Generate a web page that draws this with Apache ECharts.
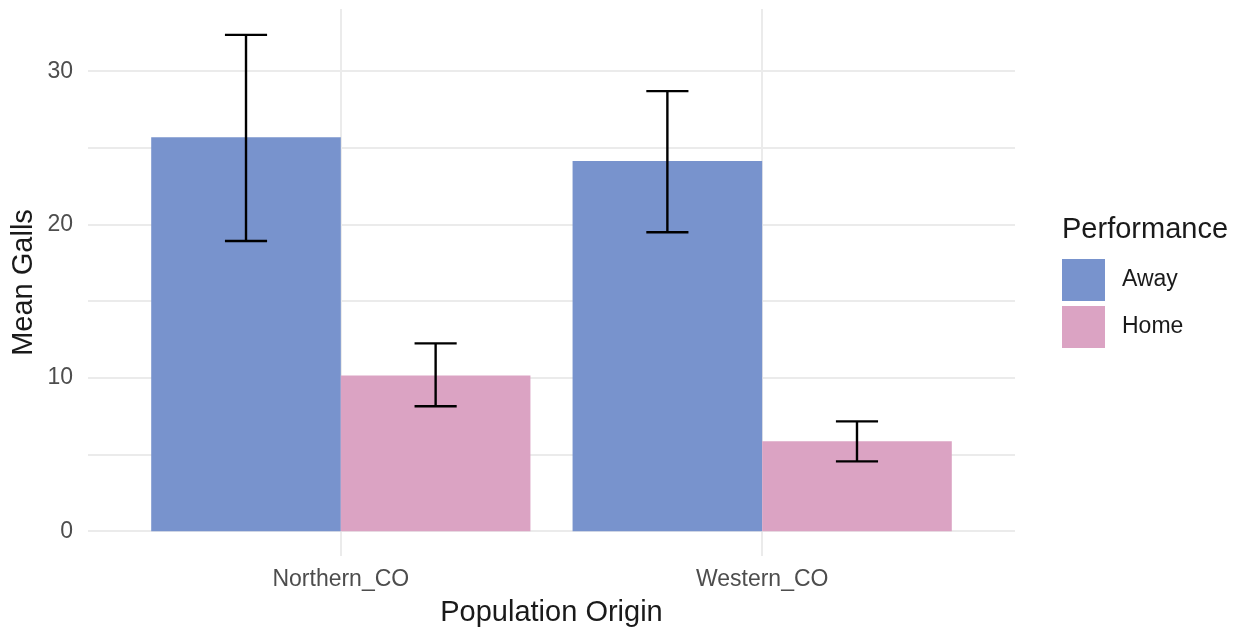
<!DOCTYPE html>
<html>
<head>
<meta charset="utf-8">
<script src="https://cdn.jsdelivr.net/npm/echarts@6/dist/echarts.min.js"></script>
<style>
  html, body { margin: 0; padding: 0; background: #fff; }
  #chart { width: 1240px; height: 627px; }
</style>
</head>
<body>
<div id="chart"></div>
<script>
// Mean galls per population origin, split by performance site, with error bars
const categories = ['Northern_CO', 'Western_CO'];
const groups = ['Away', 'Home'];
const awayMeans = [25.7, 24.15];
const homeMeans = [10.15, 5.86];
const awayLower = [18.93, 19.5];
const awayUpper = [32.37, 28.7];
const homeLower = [8.15, 4.55];
const homeUpper = [12.25, 7.16];
const yTickValues = [0, 5, 10, 15, 20, 25, 30];
const yLabelValues = [0, 10, 20, 30];

const colors = { Away: '#7893CD', Home: '#DBA3C3' };
const fontFamily = '"Liberation Sans", Arial, sans-serif';

// Category positions on a continuous axis (1, 2, ...), dodge width 0.9
const dodge = 0.45;
const offsets = { Away: -dodge / 2, Home: dodge / 2 };
const capHalf = 0.05;

function barSeries(name, means) {
  return {
    name: name,
    type: 'custom',
    itemStyle: { color: colors[name] },
    data: means.map((v, i) => [i + 1, v]),
    renderItem: function (params, api) {
      const x = api.value(0) + offsets[name];
      const tl = api.coord([x - dodge / 2, api.value(1)]);
      const br = api.coord([x + dodge / 2, 0]);
      return {
        type: 'rect',
        shape: { x: tl[0], y: tl[1], width: br[0] - tl[0], height: br[1] - tl[1] },
        style: { fill: colors[name] }
      };
    },
    z: 2
  };
}

function errorSeries(name, lower, upper) {
  return {
    type: 'custom',
    data: lower.map((lo, i) => [i + 1, lo, upper[i]]),
    renderItem: function (params, api) {
      const x = api.value(0) + offsets[name];
      const lo = api.coord([x, api.value(1)]);
      const hi = api.coord([x, api.value(2)]);
      const l = api.coord([x - capHalf, 0])[0];
      const r = api.coord([x + capHalf, 0])[0];
      const st = { stroke: '#000', lineWidth: 2.4 };
      return {
        type: 'group',
        children: [
          { type: 'line', shape: { x1: lo[0], y1: lo[1], x2: hi[0], y2: hi[1] }, style: st },
          { type: 'line', shape: { x1: l, y1: hi[1], x2: r, y2: hi[1] }, style: st },
          { type: 'line', shape: { x1: l, y1: lo[1], x2: r, y2: lo[1] }, style: st }
        ]
      };
    },
    z: 3
  };
}

const chart = echarts.init(document.getElementById('chart'), null, { renderer: 'canvas' });
chart.setOption({
  backgroundColor: '#ffffff',
  animation: false,
  textStyle: { fontFamily: fontFamily },
  grid: { left: 88, right: 225, top: 9, bottom: 71, containLabel: false, outerBoundsMode: 'none' },
  title: {
    text: 'Performance',
    left: 1062,
    top: 215,
    padding: 0,
    textStyle: { fontFamily: fontFamily, fontSize: 29, fontWeight: 'normal', color: '#1a1a1a' }
  },
  legend: {
    data: groups,
    orient: 'vertical',
    left: 1062,
    top: 259,
    padding: 0,
    icon: 'rect',
    itemWidth: 43,
    itemHeight: 42,
    itemGap: 5,
    textStyle: { fontFamily: fontFamily, fontSize: 23, color: '#1a1a1a', padding: [0, 0, 0, 12] }
  },
  xAxis: {
    type: 'value',
    min: 0.4,
    max: 2.6,
    name: 'Population Origin',
    nameLocation: 'middle',
    nameGap: 42,
    nameTextStyle: { fontFamily: fontFamily, fontSize: 29, color: '#1a1a1a' },
    axisLine: { show: false },
    axisTick: { show: false, customValues: [1, 2] },
    axisLabel: {
      customValues: [1, 2],
      formatter: v => categories[Math.round(v) - 1] || '',
      fontFamily: fontFamily,
      fontSize: 23,
      color: '#4d4d4d',
      margin: 12
    },
    splitLine: { show: true, lineStyle: { color: '#EBEBEB', width: 2 } }
  },
  yAxis: {
    type: 'value',
    min: -1.62,
    max: 34.06,
    name: 'Mean Galls',
    nameLocation: 'middle',
    nameGap: 50,
    nameMoveOverlap: false,
    nameRotate: 90,
    nameTextStyle: { fontFamily: fontFamily, fontSize: 29, color: '#1a1a1a' },
    axisLine: { show: false },
    axisTick: { show: false, customValues: yTickValues },
    axisLabel: {
      customValues: yLabelValues,
      fontFamily: fontFamily,
      fontSize: 23,
      color: '#4d4d4d',
      margin: 15
    },
    splitLine: { show: true, lineStyle: { color: '#EBEBEB', width: 1.8 } }
  },
  series: [
    barSeries('Away', awayMeans),
    barSeries('Home', homeMeans),
    errorSeries('Away', awayLower, awayUpper),
    errorSeries('Home', homeLower, homeUpper)
  ]
});
</script>
</body>
</html>
